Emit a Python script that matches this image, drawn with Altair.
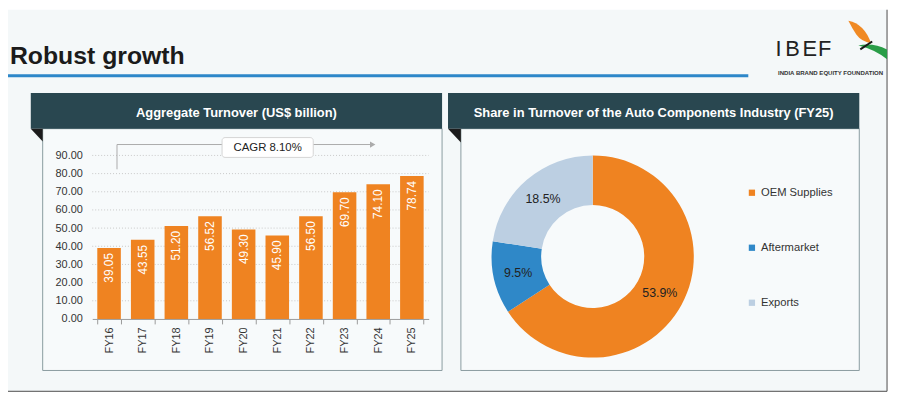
import altair as alt
import pandas as pd

# ---------------- data ----------------
years = ["FY16", "FY17", "FY18", "FY19", "FY20", "FY21", "FY22", "FY23", "FY24", "FY25"]
turnover = [39.05, 43.55, 51.20, 56.52, 49.30, 45.90, 56.50, 69.70, 74.10, 78.74]
y_ticks = [0, 10, 20, 30, 40, 50, 60, 70, 80, 90]

segments = ["OEM Supplies", "Aftermarket", "Exports"]
shares = [53.9, 9.5, 18.5]

page_title = "Robust growth"
left_title = "Aggregate Turnover (US$ billion)"
right_title = "Share in Turnover of the Auto Components Industry (FY25)"
cagr_text = "CAGR 8.10%"

# ---------------- style ----------------
FONT = "Liberation Sans"
ORANGE = "#ef8321"
BLUE = "#2f88c8"
LIGHT = "#bccfe2"
HEADER = "#294750"
BG = "#f4f8f9"
W, H = 892, 390
OX, OY = 8, 8


def px(x):
    return x - OX


def py(y):
    return y - OY


one = pd.DataFrame({"a": [0]})


def rect(x1, y1, x2, y2, **kw):
    return alt.Chart(one).mark_rect(**kw).encode(
        x=alt.value(px(x1)), x2=alt.value(px(x2)),
        y=alt.value(py(y1)), y2=alt.value(py(y2)))


def rule(x1, y1, x2, y2, **kw):
    return alt.Chart(one).mark_rule(**kw).encode(
        x=alt.value(px(x1)), x2=alt.value(px(x2)),
        y=alt.value(py(y1)), y2=alt.value(py(y2)))


def label(x, y, txt, **kw):
    return alt.Chart(one).mark_text(text=txt, font=FONT, **kw).encode(
        x=alt.value(px(x)), y=alt.value(py(y)))


def shape(x, y, path, color):
    return alt.Chart(one).mark_point(
        shape=path, size=4, filled=True, fill=color, strokeWidth=0, opacity=1
    ).encode(x=alt.value(px(x)), y=alt.value(py(y)))


layers = []
# page background and border
layers.append(rect(OX, OY, 895, 393, fill=BG))
layers.append(rule(895, OY, 895, 393, color="#4a4a4a", strokeWidth=1))
layers.append(rule(OX, 393, 895, 393, color="#4a4a4a", strokeWidth=1))

# page title + blue rule
layers.append(label(10, 63, page_title, fontSize=25, fontWeight="bold",
                    align="left", baseline="alphabetic", color="#1b1b1b"))
layers.append(rule(OX, 74.5, 755, 74.5, color="#2d87c9", strokeWidth=3))

# IBEF logo
for ch, cx in zip(["I", "B", "E", "F"], [785.5, 799.5, 817, 832]):
    layers.append(label(cx, 55, ch, fontSize=22, align="center",
                        baseline="alphabetic", color="#222222"))
layers.append(label(785, 74, "INDIA BRAND EQUITY FOUNDATION", fontSize=6.1,
                    fontWeight="bold", align="left", baseline="alphabetic",
                    color="#333333"))
layers.append(shape(856, 19, "M0,0 Q16,3 23,23 Q13,21 8,14 Q4,8 0,0 Z", "#f08a24"))
layers.append(shape(866, 41, "M0,3 Q15,0 29,7 L29,17 Q17,7 0,3 Z", "#2a9d48"))
layers.append(rule(880, 40, 868, 48, color="#1a1a1a", strokeWidth=2))

# panels
for hx1, hx2, bx1 in [(31, 446, 43), (452, 867, 465)]:
    layers.append(rect(bx1, 128, hx2, 372, fill="#f7fafb", stroke="#8a9ca0",
                       strokeWidth=1))
    layers.append(rect(hx1, 92, hx2, 128, fill=HEADER))
    layers.append(shape(hx1, 128, "M0,0 L%d,0 L%d,%d Z" % (bx1 - hx1, bx1 - hx1, bx1 - hx1 + 1),
                        "#1c1c1c"))
layers.append(label(238.5, 112, left_title, fontSize=13, fontWeight="bold",
                    align="center", baseline="middle", color="white"))
layers.append(label(659.5, 112, right_title, fontSize=13, fontWeight="bold",
                    align="center", baseline="middle", color="white"))

# ---------------- bar chart ----------------
bar_df = pd.DataFrame({"year": years, "value": turnover})
xscale = alt.Scale(domain=years, range=[px(93), px(432.5)],
                   paddingInner=0.3, paddingOuter=0.15)
yscale = alt.Scale(domain=[0, 90], range=[py(320), py(155)], nice=False)

grid = alt.Chart(pd.DataFrame({"t": y_ticks[1:]})).mark_rule(
    color="#c8c8c8", strokeDash=[1, 2], strokeWidth=1
).encode(
    y=alt.Y("t:Q", scale=yscale),
    x=alt.value(px(93)), x2=alt.value(px(432.5)))
layers.append(grid)

bars = alt.Chart(bar_df).mark_bar(color=ORANGE).encode(
    x=alt.X("year:N", scale=xscale, sort=years,
            axis=alt.Axis(title=None, labelAngle=270, offset=-(H - py(320)),
                          domainColor="#9a9a9a", tickColor="#9a9a9a",
                          tickSize=5, tickBand="extent", labelPadding=3,
                          labelFontSize=11, labelFont=FONT, labelColor="#333333",
                          grid=False, zindex=1)),
    y=alt.Y("value:Q", scale=yscale,
            axis=alt.Axis(title=None, values=y_ticks, format=".2f",
                          offset=-px(93), domain=False, ticks=False,
                          labelPadding=10, labelFontSize=11, labelFont=FONT,
                          labelColor="#333333", grid=False, zindex=1)))
layers.append(bars)

bar_labels = alt.Chart(bar_df).mark_text(
    angle=270, align="right", baseline="middle", dx=-5, color="white",
    fontSize=12, font=FONT
).encode(
    x=alt.X("year:N", scale=xscale, sort=years),
    y=alt.Y("value:Q", scale=yscale),
    text=alt.Text("value:Q", format=".2f"))
layers.append(bar_labels)

# CAGR annotation
layers.append(rule(118, 169, 118, 144, color="#ababab", strokeWidth=1))
layers.append(rule(118, 144, 374, 144, color="#ababab", strokeWidth=1))
layers.append(alt.Chart(one).mark_point(
    shape="triangle-right", size=40, filled=True, color="#ababab", opacity=1
).encode(x=alt.value(px(376)), y=alt.value(py(144))))
layers.append(rect(224, 137, 316, 157, fill="white", stroke="#d4d4d4",
                   strokeWidth=1, cornerRadius=3))
layers.append(label(270, 147.5, cagr_text, fontSize=11.5, align="center",
                    baseline="middle", color="#222222"))

# ---------------- donut ----------------
pie_df = pd.DataFrame({
    "segment": segments,
    "share": shares,
    "idx": list(range(len(segments))),
    "lab": ["%.1f%%" % s for s in shares],
})
cx, cy = px(598), py(257)
color = alt.Color(
    "segment:N",
    scale=alt.Scale(domain=segments, range=[ORANGE, BLUE, LIGHT]),
    legend=alt.Legend(title=None, orient="none", legendX=px(753), legendY=py(187),
                      symbolType="square", symbolSize=40, symbolStrokeWidth=0,
                      labelFontSize=11.3, labelFont=FONT, labelColor="#333333",
                      rowPadding=43.5, padding=0, labelOffset=3.5))
donut = alt.Chart(pie_df).mark_arc(innerRadius=52, outerRadius=102).encode(
    theta=alt.Theta("share:Q", stack=True),
    color=color,
    order=alt.Order("idx:Q"),
    x=alt.value(cx), y=alt.value(cy))
layers.append(donut)
donut_text = alt.Chart(pie_df).mark_text(
    radius=77, fontSize=12.5, font=FONT, color="#222222"
).encode(
    theta=alt.Theta("share:Q", stack=True),
    order=alt.Order("idx:Q"),
    text="lab:N",
    x=alt.value(cx), y=alt.value(cy))
layers.append(donut_text)

chart = alt.layer(*layers).properties(
    width=W, height=H, autosize=alt.AutoSizeParams(type="none"),
    padding=0, background="white"
).configure_view(stroke=None)

chart.save("out.html", embed_options={"renderer": "svg", "actions": False})
